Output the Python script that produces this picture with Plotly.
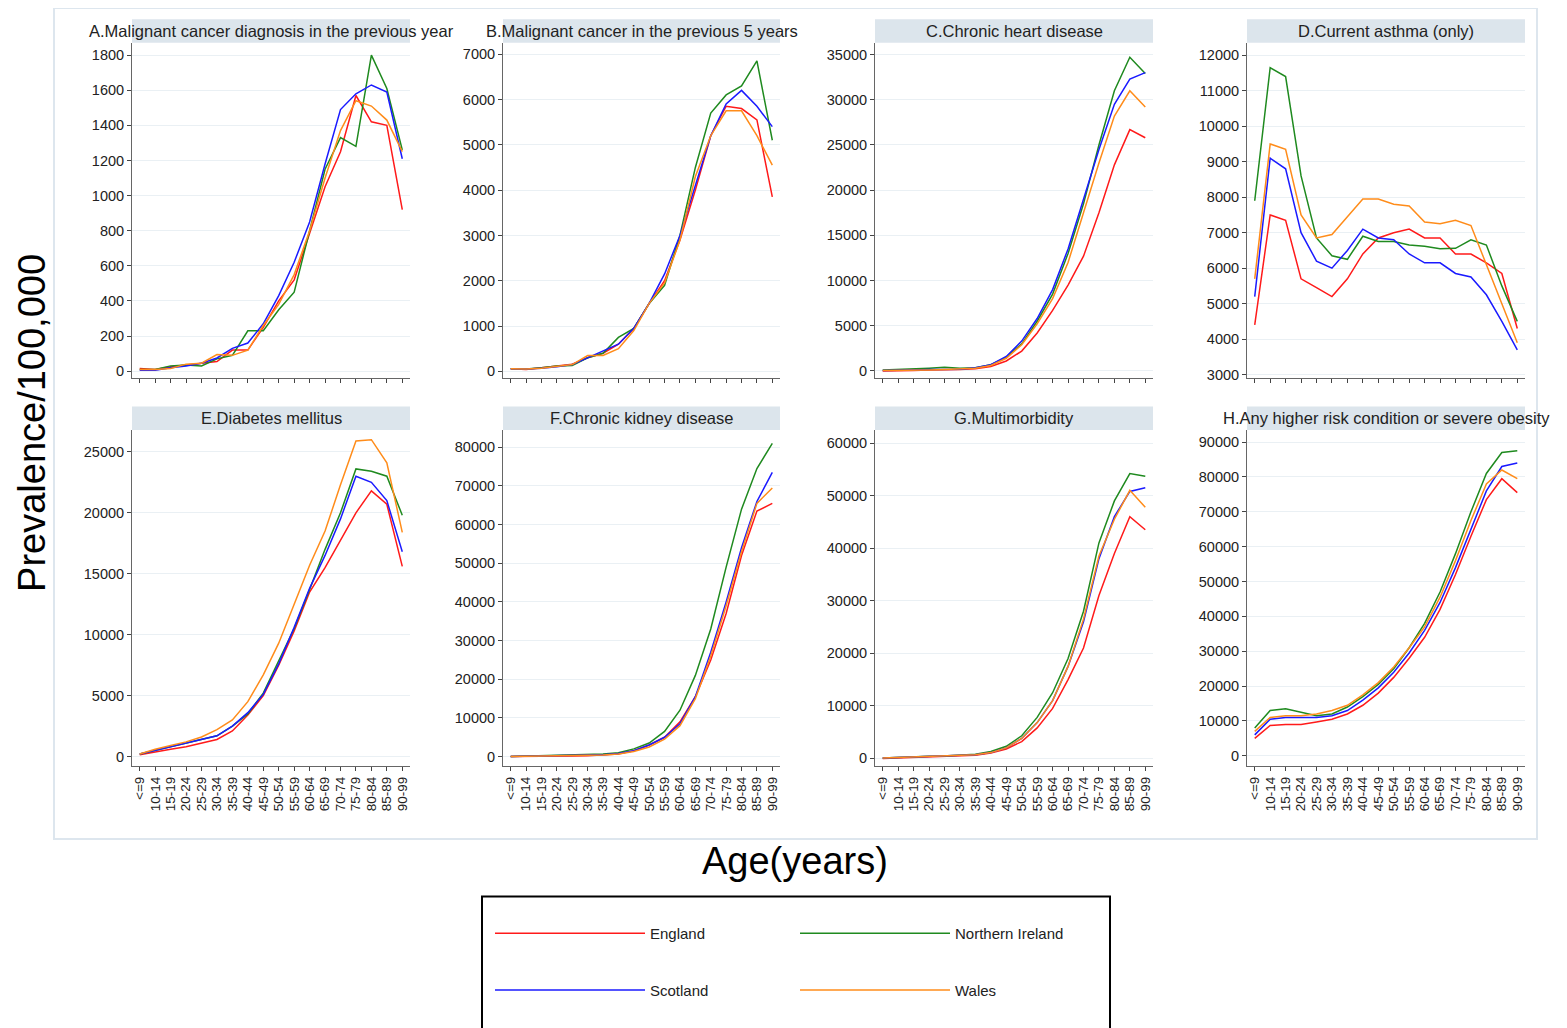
import plotly.graph_objects as go

ages = ['<=9', '10-14', '15-19', '20-24', '25-29', '30-34', '35-39', '40-44', '45-49',
        '50-54', '55-59', '60-64', '65-69', '70-74', '75-79', '80-84', '85-89', '90-99']

titles = ['A.Malignant cancer diagnosis in the previous year', 'B.Malignant cancer in the previous 5 years',
          'C.Chronic heart disease', 'D.Current asthma (only)', 'E.Diabetes mellitus',
          'F.Chronic kidney disease', 'G.Multimorbidity', 'H.Any higher risk condition or severe obesity']

countries = ['England', 'Northern Ireland', 'Scotland', 'Wales']
colors = {'England': '#ff1a1a', 'Northern Ireland': '#1f8a1f', 'Scotland': '#1a1aff', 'Wales': '#ff8c1a'}
legend_of = {'England': 'legend', 'Northern Ireland': 'legend', 'Scotland': 'legend2', 'Wales': 'legend2'}

# panel A
a_eng = [15, 10, 25, 35, 45, 55, 120, 120, 250, 400, 520, 780, 1050, 1250, 1570, 1420, 1400, 920]
a_ni = [10, 10, 30, 35, 30, 70, 90, 230, 230, 350, 450, 800, 1150, 1330, 1280, 1800, 1610, 1260]
a_sco = [5, 5, 20, 30, 45, 75, 130, 160, 270, 430, 620, 850, 1180, 1490, 1580, 1630, 1590, 1210]
a_wal = [10, 10, 15, 40, 45, 95, 90, 120, 260, 380, 550, 800, 1100, 1370, 1540, 1510, 1430, 1250]
# panel B
b_eng = [60, 40, 80, 120, 160, 300, 400, 600, 950, 1500, 2000, 2900, 4000, 5200, 5850, 5800, 5550, 3850]
b_ni = [60, 50, 80, 120, 130, 300, 400, 750, 950, 1500, 1900, 3000, 4500, 5700, 6100, 6300, 6850, 5100]
b_sco = [60, 50, 70, 100, 150, 300, 450, 600, 950, 1500, 2150, 3000, 4100, 5200, 5900, 6200, 5850, 5400]
b_wal = [60, 50, 70, 110, 150, 350, 350, 500, 900, 1500, 1950, 2900, 4300, 5200, 5750, 5750, 5200, 4550]
# panel C
c_eng = [0, 0, 50, 100, 100, 150, 250, 500, 1100, 2200, 4200, 6700, 9500, 12700, 17500, 22800, 26700, 25800]
c_ni = [100, 150, 250, 300, 400, 300, 350, 700, 1500, 3000, 5500, 8500, 13000, 18500, 25000, 31000, 34700, 32900]
c_sco = [50, 50, 100, 150, 150, 200, 350, 700, 1600, 3300, 5800, 9000, 13500, 19000, 24500, 29500, 32300, 33000]
c_wal = [50, 50, 100, 100, 150, 200, 300, 600, 1400, 2900, 5200, 8000, 12000, 17500, 23000, 28200, 31000, 29200]
# panel D
d_eng = [4400, 7500, 7350, 5700, 5450, 5200, 5700, 6400, 6850, 7000, 7100, 6850, 6850, 6400, 6400, 6150, 5850, 4300]
d_ni = [7900, 11650, 11400, 8600, 6850, 6350, 6250, 6900, 6750, 6750, 6650, 6620, 6550, 6560, 6800, 6650, 5500, 4500]
d_sco = [5200, 9100, 8800, 7000, 6200, 6000, 6500, 7100, 6850, 6800, 6400, 6150, 6150, 5850, 5750, 5250, 4500, 3700]
d_wal = [5700, 9500, 9350, 7500, 6850, 6950, 7450, 7950, 7950, 7800, 7750, 7300, 7250, 7350, 7200, 6100, 5000, 3900]
# panel E
e_eng = [150, 400, 600, 800, 1100, 1400, 2100, 3400, 5000, 7500, 10300, 13500, 15500, 17800, 20000, 21800, 20700, 15600]
e_ni = [200, 500, 800, 1100, 1400, 1700, 2500, 3500, 5200, 7800, 10500, 13700, 17000, 20000, 23600, 23400, 23000, 19800]
e_sco = [200, 500, 800, 1100, 1400, 1700, 2500, 3600, 5100, 7600, 10600, 13800, 16500, 19500, 23000, 22500, 21000, 16800]
e_wal = [200, 600, 900, 1200, 1600, 2200, 3000, 4500, 6700, 9300, 12500, 15700, 18500, 22300, 25900, 26000, 24100, 18400]
# panel F
f_eng = [0, 0, 50, 100, 150, 250, 400, 700, 1500, 3000, 5000, 9000, 15500, 25000, 37000, 52000, 63500, 65500]
f_ni = [0, 100, 200, 300, 400, 500, 700, 1000, 2000, 3500, 6500, 12000, 21000, 33000, 49000, 64000, 74500, 81000]
f_sco = [0, 50, 100, 150, 200, 300, 500, 800, 1500, 3000, 5000, 8500, 15500, 27000, 40000, 54000, 66000, 73500]
f_wal = [0, 50, 100, 150, 200, 300, 400, 700, 1300, 2500, 4500, 8000, 15000, 26000, 39000, 53000, 65500, 69500]
# panel G
g_eng = [0, 100, 200, 300, 300, 400, 600, 1000, 1800, 3200, 5800, 9500, 15000, 21000, 31000, 39000, 46000, 43500]
g_ni = [50, 200, 300, 400, 450, 600, 800, 1300, 2300, 4300, 7800, 12500, 19000, 28000, 41000, 49000, 54200, 53700]
g_sco = [50, 150, 250, 350, 400, 500, 700, 1100, 2000, 3800, 6800, 11000, 17500, 26000, 38000, 46000, 50800, 51500]
g_wal = [50, 150, 250, 350, 400, 500, 700, 1100, 2000, 3800, 6800, 11000, 17500, 26500, 38500, 45500, 51000, 47800]
# panel H
h_eng = [5000, 8700, 9000, 9000, 9700, 10500, 12000, 14500, 18000, 22500, 28000, 34000, 42000, 52000, 63000, 73500, 79500, 75500]
h_ni = [8000, 13000, 13500, 12500, 11500, 12000, 14000, 17000, 20500, 25000, 31000, 38000, 47000, 58000, 70000, 81000, 87000, 87500]
h_sco = [6000, 10500, 11000, 11000, 11000, 11500, 13000, 16000, 19500, 24000, 29500, 36000, 44000, 54000, 65000, 76000, 83000, 84000]
h_wal = [7000, 11000, 11500, 11500, 12000, 13000, 14500, 17500, 21000, 25500, 31000, 37000, 45500, 56000, 67500, 78000, 82000, 79500]

panels = [
    [a_eng, a_ni, a_sco, a_wal], [b_eng, b_ni, b_sco, b_wal],
    [c_eng, c_ni, c_sco, c_wal], [d_eng, d_ni, d_sco, d_wal],
    [e_eng, e_ni, e_sco, e_wal], [f_eng, f_ni, f_sco, f_wal],
    [g_eng, g_ni, g_sco, g_wal], [h_eng, h_ni, h_sco, h_wal],
]
yranges = [[-40, 1870], [-150, 7250], [-800, 36300], [2900, 12350],
           [-800, 26800], [-2500, 84500], [-1500, 62500], [-3000, 93500]]
ydticks = [200, 1000, 5000, 1000, 5000, 10000, 10000, 10000]
ymins = [0, 0, 0, 3000, 0, 0, 0, 0]

# page body has an 8px margin, so lay out in a slightly smaller box
OFF = 8
W, H = 1567 - OFF, 1028 - OFF
def px(v):
    return (v - OFF) / W
def py_(v):
    return 1 - (v - OFF) / H

xdoms = [(132, 410), (503, 780), (875, 1153), (1247, 1525)]
ydoms = [(43, 380), (432, 770)]

fig = go.Figure()
font = 'Liberation Sans, Arial, sans-serif'

for i in range(8):
    r, c = divmod(i, 4)
    n = i + 1
    xa = 'x' if n == 1 else 'x%d' % n
    ya = 'y' if n == 1 else 'y%d' % n
    for k, cty in enumerate(countries):
        fig.add_trace(go.Scatter(x=ages, y=panels[i][k], mode='lines', name=cty,
                                 line=dict(color=colors[cty], width=1.5),
                                 showlegend=(i == 0), legend=legend_of[cty],
                                 xaxis=xa, yaxis=ya))
    xd = xdoms[c]
    yd = ydoms[r]
    fig.layout['xaxis' if n == 1 else 'xaxis%d' % n] = dict(
        domain=[px(xd[0]), px(xd[1])], anchor=ya, showticklabels=(r == 1),
        tickmode='array', tickvals=ages, ticktext=ages,
        tickangle=-90, ticks='outside', ticklen=4, showgrid=False, showline=True,
        linecolor='#666', tickfont=dict(size=13.5, color='#222'), range=[-0.5, 17.5])
    fig.layout['yaxis' if n == 1 else 'yaxis%d' % n] = dict(
        domain=[py_(yd[1]), py_(yd[0])], anchor=xa, range=yranges[i],
        tick0=ymins[i], dtick=ydticks[i], tickformat='d', ticks='outside', ticklen=4,
        showline=True, linecolor='#666', gridcolor='#eaf0f4', zeroline=False,
        tickfont=dict(size=14.5, color='#222'))
    fig.add_shape(type='rect', xref=xa + ' domain', yref=ya + ' domain',
                  x0=0, x1=1, y0=1.0, y1=1.07, fillcolor='#dce5ec', line_width=0, layer='below')
    fig.add_annotation(text=titles[i], xref=xa + ' domain', yref=ya + ' domain',
                       x=0.5, y=1.035, yanchor='middle', showarrow=False,
                       font=dict(size=16.5, color='#222'))

# outer frame and legend frame
fig.add_shape(type='rect', xref='paper', yref='paper', x0=px(54), x1=px(1537),
              y0=py_(843), y1=py_(8), line=dict(color='#dde6ee', width=2))
fig.add_shape(type='rect', xref='paper', yref='paper', x0=px(482), x1=px(1110),
              y0=py_(1040), y1=py_(901), line=dict(color='black', width=2))

fig.add_annotation(text='Prevalence/100,000', xref='paper', yref='paper', x=px(32), y=py_(425),
                   xanchor='center', textangle=-90, showarrow=False, font=dict(size=38, color='black'))
fig.add_annotation(text='Age(years)', xref='paper', yref='paper', x=px(795), y=py_(865),
                   yanchor='middle', showarrow=False, font=dict(size=38, color='black'))

leg = dict(orientation='h', xanchor='left', yanchor='middle',
           entrywidth=140, entrywidthmode='pixels', traceorder='normal',
           font=dict(size=15, color='#222'), itemwidth=150, bgcolor='rgba(0,0,0,0)')
fig.update_layout(
    width=W, height=H, margin=dict(l=0, r=0, t=0, b=0),
    paper_bgcolor='white', plot_bgcolor='white',
    font=dict(family=font),
    legend=dict(leg, x=px(490), y=py_(938)),
    legend2=dict(leg, x=px(490), y=py_(995)),
)

fig.write_html("out.html")
